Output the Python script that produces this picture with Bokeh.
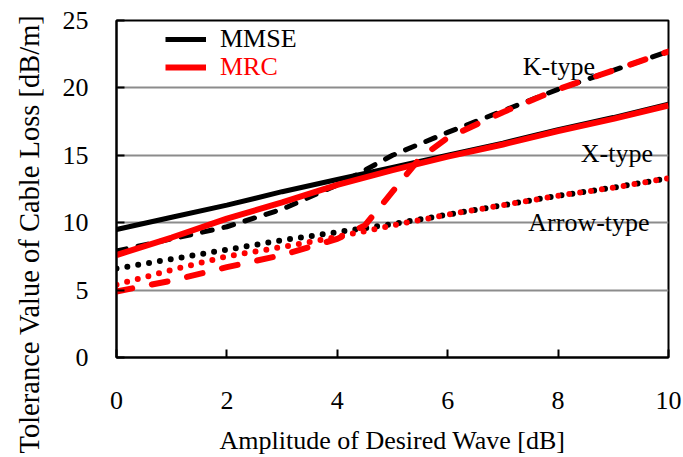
import math
from bokeh.plotting import figure
from bokeh.models import Range1d, Label, Legend, LegendItem, FixedTicker, Title
from bokeh.embed import file_html
from bokeh.resources import INLINE

# ---- data ----
amp = [0, 1, 2, 3, 4, 5, 6, 7, 8, 9, 10]
x_mmse = [9.5, 10.4, 11.3, 12.3, 13.2, 14.1, 15.0, 15.9, 16.9, 17.8, 18.8]
x_mrc = [7.6, 8.9, 10.3, 11.5, 12.8, 13.9, 14.9, 15.8, 16.8, 17.7, 18.7]
k_mmse = [7.9, 8.8, 9.7, 11.0, 12.8, 15.0, 16.7, 18.3, 19.9, 21.3, 22.7]
amp_k_mrc = [0, 1, 2, 3, 4, 4.5, 5, 5.5, 6, 7, 8, 9, 10]
k_mrc = [4.9, 5.7, 6.7, 7.6, 8.8, 9.8, 12.3, 14.8, 16.3, 18.2, 19.9, 21.3, 22.7]
arrow_mmse = [6.6, 7.3, 8.0, 8.7, 9.3, 9.9, 10.6, 11.3, 12.0, 12.6, 13.3]
arrow_mrc = [5.4, 6.5, 7.5, 8.2, 8.95, 9.8, 10.6, 11.3, 12.0, 12.6, 13.3]
x_ticks = [0, 2, 4, 6, 8, 10]
y_ticks = [0, 5, 10, 15, 20, 25]

FONT = "Liberation Serif"
BLACK = "#000000"
RED = "#ff0000"

p = figure(width=683, height=457, output_backend="svg", toolbar_location=None,
           x_range=Range1d(0, 10), y_range=Range1d(0, 25),
           min_border_left=116, min_border_right=15,
           min_border_top=20, min_border_bottom=99)
p.background_fill_color = "white"
p.border_fill_color = "white"
p.outline_line_color = "black"
p.outline_line_width = 2

p.xgrid.grid_line_color = None
p.ygrid.grid_line_color = "#8c8c8c"
p.ygrid.grid_line_width = 2

p.xaxis.ticker = FixedTicker(ticks=x_ticks)
p.yaxis.ticker = FixedTicker(ticks=y_ticks)
for ax in (p.xaxis, p.yaxis):
    ax.axis_line_width = 2
    ax.major_tick_line_width = 2
    ax.major_tick_in = 8
    ax.major_tick_out = 0
    ax.minor_tick_line_color = None
    ax.major_label_text_font = FONT
    ax.major_label_text_font_size = "26px"
    ax.major_label_text_color = "black"
    ax.axis_label_text_font = FONT
    ax.axis_label_text_font_size = "26px"
    ax.axis_label_text_font_style = "normal"
    ax.axis_label_text_color = "black"
p.xaxis.major_label_text_line_height = 0.8
p.xaxis.axis_label_text_line_height = 0.8
p.xaxis.major_label_standoff = 34
p.yaxis.major_label_standoff = 28
p.xaxis.axis_label = "Amplitude of Desired Wave [dB]"
p.xaxis.axis_label_standoff = 14

ytitle = Title(text="Tolerance Value of Cable Loss [dB/m]", align="left", offset=-96,
               standoff=26, vertical_align="top", text_font=FONT, text_font_size="28.5px",
               text_font_style="normal", text_color="black")
p.add_layout(ytitle, "left")

# ---- lines ----
r_mmse = p.line(amp, x_mmse, line_color=BLACK, line_width=5)
p.line(amp, k_mmse, line_color=BLACK, line_width=5, line_dash="10 12", line_cap="round")
p.line(amp, arrow_mmse, line_color=BLACK, line_width=6, line_dash="0 11", line_cap="round")
r_mrc = p.line(amp, x_mrc, line_color=RED, line_width=6)
p.line(amp_k_mrc, k_mrc, line_color=RED, line_width=6, line_dash="16 20", line_cap="round")
p.line(amp, arrow_mrc, line_color=RED, line_width=6, line_dash="0 11", line_cap="round")

# ---- legends ----
def make_legend(label, rend, color, loc):
    lg = Legend(items=[LegendItem(label=label, renderers=[rend])], location=loc,
                padding=0, margin=0, spacing=0,
                glyph_width=41, glyph_height=40, label_height=40,
                label_standoff=14,
                label_text_font=FONT, label_text_font_size="26px",
                label_text_color=color,
                background_fill_alpha=0, border_line_color=None)
    return lg

p.add_layout(make_legend("MMSE", r_mmse, BLACK, (49, 298)))
p.add_layout(make_legend("MRC", r_mrc, RED, (49, 270)))

# ---- annotations ----
def add_text(txt, x, y, **kw):
    p.add_layout(Label(x=x, y=y, text=txt, text_font=FONT, text_font_size="26px",
                       text_color="black", **kw))

add_text("K-type", 7.36, 21.56, text_align="left", text_baseline="alphabetic")
add_text("X-type", 8.41, 15.15, text_align="left", text_baseline="alphabetic")
add_text("Arrow-type", 7.46, 10.0, text_align="left", text_baseline="alphabetic")

open("out.html", "w").write(file_html(p, INLINE))
